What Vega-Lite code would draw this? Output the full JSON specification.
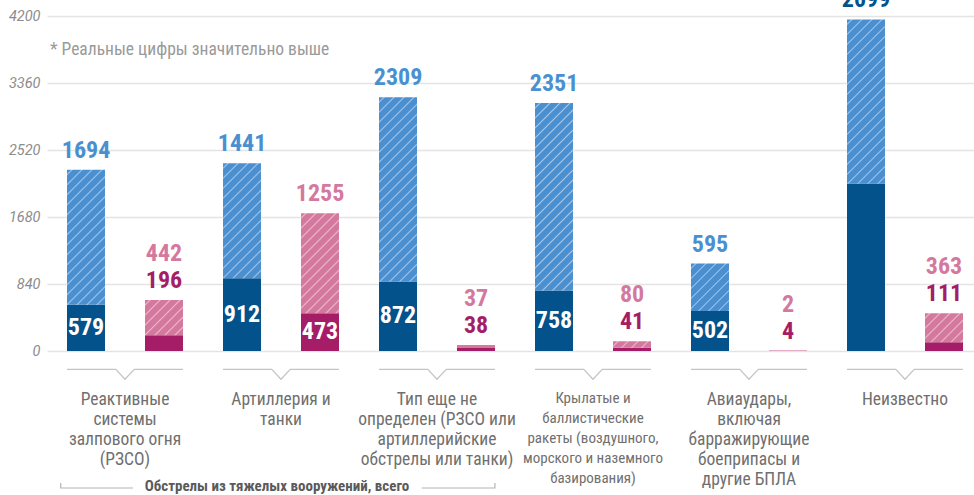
{
  "$schema": "https://vega.github.io/schema/vega-lite/v6.json",
  "width": 926,
  "height": 335,
  "autosize": {"type": "none"},
  "padding": {"left": 48, "top": 16, "right": 0, "bottom": 144},
  "background": "white",
  "config": {
    "view": {"stroke": null},
    "font": "Roboto Condensed, Liberation Sans Narrow, Roboto, sans-serif"
  },
  "datasets": {
    "bars": [
      {"cat": "Реактивные|системы|залпового огня|(РЗСО)", "series": "series1", "base": 579, "extra": 1694},
      {"cat": "Реактивные|системы|залпового огня|(РЗСО)", "series": "series2", "base": 196, "extra": 442},
      {"cat": "Артиллерия и|танки", "series": "series1", "base": 912, "extra": 1441},
      {"cat": "Артиллерия и|танки", "series": "series2", "base": 473, "extra": 1255},
      {"cat": "Тип еще не|определен (РЗСО или|артиллерийские|обстрелы или танки)", "series": "series1", "base": 872, "extra": 2309},
      {"cat": "Тип еще не|определен (РЗСО или|артиллерийские|обстрелы или танки)", "series": "series2", "base": 38, "extra": 37},
      {"cat": "Крылатые и|баллистические|ракеты (воздушного,|морского и наземного|базирования)", "series": "series1", "base": 758, "extra": 2351},
      {"cat": "Крылатые и|баллистические|ракеты (воздушного,|морского и наземного|базирования)", "series": "series2", "base": 41, "extra": 80},
      {"cat": "Авиаудары,|включая|барражирующие|боеприпасы и|другие БПЛА", "series": "series1", "base": 502, "extra": 595},
      {"cat": "Авиаудары,|включая|барражирующие|боеприпасы и|другие БПЛА", "series": "series2", "base": 4, "extra": 2},
      {"cat": "Неизвестно", "series": "series1", "base": 2099, "extra": 2058},
      {"cat": "Неизвестно", "series": "series2", "base": 111, "extra": 363}
    ]
  },
  "data": {"name": "bars"},
  "transform": [
    {"fold": ["base", "extra"], "as": ["part", "value"]},
    {"joinaggregate": [{"op": "sum", "field": "value", "as": "total"}], "groupby": ["cat", "series"]}
  ],
  "resolve": {"scale": {"y": "independent"}},
  "encoding": {
    "x": {
      "field": "cat", "type": "nominal", "sort": null,
      "scale": {"range": [-1, 935], "paddingInner": 0, "paddingOuter": 0},
      "axis": {
        "title": null, "domain": false, "ticks": false, "labelAngle": 0,
        "labelPadding": 39, "labelBaseline": "top", "labelLimit": 0,
        "labelExpr": "split(datum.label, '|')",
        "labelLineHeight": 20,
        "labelColor": "#6f6f6f",
        "labelFontSize": {"condition": {"test": "indexof(datum.value, 'Крылатые') == 0", "value": 15}, "value": 17.5},
        "labelOverlap": false
      }
    }
  },
  "layer": [
    {
      "mark": {"type": "bar"},
      "encoding": {
        "xOffset": {"field": "series", "type": "nominal", "scale": {"paddingInner": 0.513, "paddingOuter": 0.2565}},
        "y": {
          "field": "value", "type": "quantitative", "stack": "zero",
          "scale": {"domain": [0, 4200], "nice": false},
          "axis": {
            "values": [0, 840, 1680, 2520, 3360, 4200], "format": "d", "title": null,
            "domain": false, "ticks": false, "labelPadding": 8,
            "labelFont": "Roboto", "labelFontStyle": "italic", "labelFontSize": 14.5,
            "labelColor": "#8c8c8c", "gridColor": "#e4e4e4", "gridWidth": 1.5
          }
        },
        "order": {"field": "part", "sort": "ascending"},
        "detail": {"field": "part"},
        "fill": {
          "condition": [
            {"test": "datum.series == 'series1' && datum.part == 'base'", "value": "#03528b"},
            {"test": "datum.part == 'base'", "value": "#a51d66"},
            {"test": "datum.series == 'series1' && indexof(datum.cat, 'Реактивные') == 0", "value": {"gradient": "linear", "x1": 0, "y1": 0, "x2": 0.4822, "y2": 1.7146, "stops": [
              {"offset": 0, "color": "#4a8fd0"},
              {"offset": 0.014, "color": "#4a8fd0"}, {"offset": 0.02, "color": "#a3c6ea"}, {"offset": 0.026, "color": "#4a8fd0"},
              {"offset": 0.054, "color": "#4a8fd0"}, {"offset": 0.06, "color": "#a3c6ea"}, {"offset": 0.066, "color": "#4a8fd0"},
              {"offset": 0.094, "color": "#4a8fd0"}, {"offset": 0.1, "color": "#a3c6ea"}, {"offset": 0.106, "color": "#4a8fd0"},
              {"offset": 0.134, "color": "#4a8fd0"}, {"offset": 0.14, "color": "#a3c6ea"}, {"offset": 0.146, "color": "#4a8fd0"},
              {"offset": 0.174, "color": "#4a8fd0"}, {"offset": 0.18, "color": "#a3c6ea"}, {"offset": 0.186, "color": "#4a8fd0"},
              {"offset": 0.214, "color": "#4a8fd0"}, {"offset": 0.22, "color": "#a3c6ea"}, {"offset": 0.226, "color": "#4a8fd0"},
              {"offset": 0.254, "color": "#4a8fd0"}, {"offset": 0.26, "color": "#a3c6ea"}, {"offset": 0.266, "color": "#4a8fd0"},
              {"offset": 0.294, "color": "#4a8fd0"}, {"offset": 0.3, "color": "#a3c6ea"}, {"offset": 0.306, "color": "#4a8fd0"},
              {"offset": 0.334, "color": "#4a8fd0"}, {"offset": 0.34, "color": "#a3c6ea"}, {"offset": 0.346, "color": "#4a8fd0"},
              {"offset": 0.374, "color": "#4a8fd0"}, {"offset": 0.38, "color": "#a3c6ea"}, {"offset": 0.386, "color": "#4a8fd0"},
              {"offset": 0.414, "color": "#4a8fd0"}, {"offset": 0.42, "color": "#a3c6ea"}, {"offset": 0.426, "color": "#4a8fd0"},
              {"offset": 0.454, "color": "#4a8fd0"}, {"offset": 0.46, "color": "#a3c6ea"}, {"offset": 0.466, "color": "#4a8fd0"},
              {"offset": 0.494, "color": "#4a8fd0"}, {"offset": 0.5, "color": "#a3c6ea"}, {"offset": 0.506, "color": "#4a8fd0"},
              {"offset": 0.534, "color": "#4a8fd0"}, {"offset": 0.54, "color": "#a3c6ea"}, {"offset": 0.546, "color": "#4a8fd0"},
              {"offset": 0.574, "color": "#4a8fd0"}, {"offset": 0.58, "color": "#a3c6ea"}, {"offset": 0.586, "color": "#4a8fd0"},
              {"offset": 0.614, "color": "#4a8fd0"}, {"offset": 0.62, "color": "#a3c6ea"}, {"offset": 0.626, "color": "#4a8fd0"},
              {"offset": 0.654, "color": "#4a8fd0"}, {"offset": 0.66, "color": "#a3c6ea"}, {"offset": 0.666, "color": "#4a8fd0"},
              {"offset": 1, "color": "#4a8fd0"}]}},
            {"test": "datum.series == 'series1' && indexof(datum.cat, 'Артиллерия') == 0", "value": {"gradient": "linear", "x1": 0, "y1": 0, "x2": 0.6482, "y2": 1.9608, "stops": [
              {"offset": 0, "color": "#4a8fd0"},
              {"offset": 0.014, "color": "#4a8fd0"}, {"offset": 0.02, "color": "#a3c6ea"}, {"offset": 0.026, "color": "#4a8fd0"},
              {"offset": 0.054, "color": "#4a8fd0"}, {"offset": 0.06, "color": "#a3c6ea"}, {"offset": 0.066, "color": "#4a8fd0"},
              {"offset": 0.094, "color": "#4a8fd0"}, {"offset": 0.1, "color": "#a3c6ea"}, {"offset": 0.106, "color": "#4a8fd0"},
              {"offset": 0.134, "color": "#4a8fd0"}, {"offset": 0.14, "color": "#a3c6ea"}, {"offset": 0.146, "color": "#4a8fd0"},
              {"offset": 0.174, "color": "#4a8fd0"}, {"offset": 0.18, "color": "#a3c6ea"}, {"offset": 0.186, "color": "#4a8fd0"},
              {"offset": 0.214, "color": "#4a8fd0"}, {"offset": 0.22, "color": "#a3c6ea"}, {"offset": 0.226, "color": "#4a8fd0"},
              {"offset": 0.254, "color": "#4a8fd0"}, {"offset": 0.26, "color": "#a3c6ea"}, {"offset": 0.266, "color": "#4a8fd0"},
              {"offset": 0.294, "color": "#4a8fd0"}, {"offset": 0.3, "color": "#a3c6ea"}, {"offset": 0.306, "color": "#4a8fd0"},
              {"offset": 0.334, "color": "#4a8fd0"}, {"offset": 0.34, "color": "#a3c6ea"}, {"offset": 0.346, "color": "#4a8fd0"},
              {"offset": 0.374, "color": "#4a8fd0"}, {"offset": 0.38, "color": "#a3c6ea"}, {"offset": 0.386, "color": "#4a8fd0"},
              {"offset": 0.414, "color": "#4a8fd0"}, {"offset": 0.42, "color": "#a3c6ea"}, {"offset": 0.426, "color": "#4a8fd0"},
              {"offset": 0.454, "color": "#4a8fd0"}, {"offset": 0.46, "color": "#a3c6ea"}, {"offset": 0.466, "color": "#4a8fd0"},
              {"offset": 0.494, "color": "#4a8fd0"}, {"offset": 0.5, "color": "#a3c6ea"}, {"offset": 0.506, "color": "#4a8fd0"},
              {"offset": 0.534, "color": "#4a8fd0"}, {"offset": 0.54, "color": "#a3c6ea"}, {"offset": 0.546, "color": "#4a8fd0"},
              {"offset": 0.574, "color": "#4a8fd0"}, {"offset": 0.58, "color": "#a3c6ea"}, {"offset": 0.586, "color": "#4a8fd0"},
              {"offset": 1, "color": "#4a8fd0"}]}},
            {"test": "datum.series == 'series1' && indexof(datum.cat, 'Тип') == 0", "value": {"gradient": "linear", "x1": 0, "y1": 0, "x2": 0.2686, "y2": 1.302, "stops": [
              {"offset": 0, "color": "#4a8fd0"},
              {"offset": 0.014, "color": "#4a8fd0"}, {"offset": 0.02, "color": "#a3c6ea"}, {"offset": 0.026, "color": "#4a8fd0"},
              {"offset": 0.054, "color": "#4a8fd0"}, {"offset": 0.06, "color": "#a3c6ea"}, {"offset": 0.066, "color": "#4a8fd0"},
              {"offset": 0.094, "color": "#4a8fd0"}, {"offset": 0.1, "color": "#a3c6ea"}, {"offset": 0.106, "color": "#4a8fd0"},
              {"offset": 0.134, "color": "#4a8fd0"}, {"offset": 0.14, "color": "#a3c6ea"}, {"offset": 0.146, "color": "#4a8fd0"},
              {"offset": 0.174, "color": "#4a8fd0"}, {"offset": 0.18, "color": "#a3c6ea"}, {"offset": 0.186, "color": "#4a8fd0"},
              {"offset": 0.214, "color": "#4a8fd0"}, {"offset": 0.22, "color": "#a3c6ea"}, {"offset": 0.226, "color": "#4a8fd0"},
              {"offset": 0.254, "color": "#4a8fd0"}, {"offset": 0.26, "color": "#a3c6ea"}, {"offset": 0.266, "color": "#4a8fd0"},
              {"offset": 0.294, "color": "#4a8fd0"}, {"offset": 0.3, "color": "#a3c6ea"}, {"offset": 0.306, "color": "#4a8fd0"},
              {"offset": 0.334, "color": "#4a8fd0"}, {"offset": 0.34, "color": "#a3c6ea"}, {"offset": 0.346, "color": "#4a8fd0"},
              {"offset": 0.374, "color": "#4a8fd0"}, {"offset": 0.38, "color": "#a3c6ea"}, {"offset": 0.386, "color": "#4a8fd0"},
              {"offset": 0.414, "color": "#4a8fd0"}, {"offset": 0.42, "color": "#a3c6ea"}, {"offset": 0.426, "color": "#4a8fd0"},
              {"offset": 0.454, "color": "#4a8fd0"}, {"offset": 0.46, "color": "#a3c6ea"}, {"offset": 0.466, "color": "#4a8fd0"},
              {"offset": 0.494, "color": "#4a8fd0"}, {"offset": 0.5, "color": "#a3c6ea"}, {"offset": 0.506, "color": "#4a8fd0"},
              {"offset": 0.534, "color": "#4a8fd0"}, {"offset": 0.54, "color": "#a3c6ea"}, {"offset": 0.546, "color": "#4a8fd0"},
              {"offset": 0.574, "color": "#4a8fd0"}, {"offset": 0.58, "color": "#a3c6ea"}, {"offset": 0.586, "color": "#4a8fd0"},
              {"offset": 0.614, "color": "#4a8fd0"}, {"offset": 0.62, "color": "#a3c6ea"}, {"offset": 0.626, "color": "#4a8fd0"},
              {"offset": 0.654, "color": "#4a8fd0"}, {"offset": 0.66, "color": "#a3c6ea"}, {"offset": 0.666, "color": "#4a8fd0"},
              {"offset": 0.694, "color": "#4a8fd0"}, {"offset": 0.7, "color": "#a3c6ea"}, {"offset": 0.706, "color": "#4a8fd0"},
              {"offset": 0.734, "color": "#4a8fd0"}, {"offset": 0.74, "color": "#a3c6ea"}, {"offset": 0.746, "color": "#4a8fd0"},
              {"offset": 0.774, "color": "#4a8fd0"}, {"offset": 0.78, "color": "#a3c6ea"}, {"offset": 0.786, "color": "#4a8fd0"},
              {"offset": 0.814, "color": "#4a8fd0"}, {"offset": 0.82, "color": "#a3c6ea"}, {"offset": 0.826, "color": "#4a8fd0"},
              {"offset": 0.854, "color": "#4a8fd0"}, {"offset": 0.86, "color": "#a3c6ea"}, {"offset": 0.866, "color": "#4a8fd0"},
              {"offset": 1, "color": "#4a8fd0"}]}},
            {"test": "datum.series == 'series1' && indexof(datum.cat, 'Крылатые') == 0", "value": {"gradient": "linear", "x1": 0, "y1": 0, "x2": 0.2595, "y2": 1.2806, "stops": [
              {"offset": 0, "color": "#4a8fd0"},
              {"offset": 0.014, "color": "#4a8fd0"}, {"offset": 0.02, "color": "#a3c6ea"}, {"offset": 0.026, "color": "#4a8fd0"},
              {"offset": 0.054, "color": "#4a8fd0"}, {"offset": 0.06, "color": "#a3c6ea"}, {"offset": 0.066, "color": "#4a8fd0"},
              {"offset": 0.094, "color": "#4a8fd0"}, {"offset": 0.1, "color": "#a3c6ea"}, {"offset": 0.106, "color": "#4a8fd0"},
              {"offset": 0.134, "color": "#4a8fd0"}, {"offset": 0.14, "color": "#a3c6ea"}, {"offset": 0.146, "color": "#4a8fd0"},
              {"offset": 0.174, "color": "#4a8fd0"}, {"offset": 0.18, "color": "#a3c6ea"}, {"offset": 0.186, "color": "#4a8fd0"},
              {"offset": 0.214, "color": "#4a8fd0"}, {"offset": 0.22, "color": "#a3c6ea"}, {"offset": 0.226, "color": "#4a8fd0"},
              {"offset": 0.254, "color": "#4a8fd0"}, {"offset": 0.26, "color": "#a3c6ea"}, {"offset": 0.266, "color": "#4a8fd0"},
              {"offset": 0.294, "color": "#4a8fd0"}, {"offset": 0.3, "color": "#a3c6ea"}, {"offset": 0.306, "color": "#4a8fd0"},
              {"offset": 0.334, "color": "#4a8fd0"}, {"offset": 0.34, "color": "#a3c6ea"}, {"offset": 0.346, "color": "#4a8fd0"},
              {"offset": 0.374, "color": "#4a8fd0"}, {"offset": 0.38, "color": "#a3c6ea"}, {"offset": 0.386, "color": "#4a8fd0"},
              {"offset": 0.414, "color": "#4a8fd0"}, {"offset": 0.42, "color": "#a3c6ea"}, {"offset": 0.426, "color": "#4a8fd0"},
              {"offset": 0.454, "color": "#4a8fd0"}, {"offset": 0.46, "color": "#a3c6ea"}, {"offset": 0.466, "color": "#4a8fd0"},
              {"offset": 0.494, "color": "#4a8fd0"}, {"offset": 0.5, "color": "#a3c6ea"}, {"offset": 0.506, "color": "#4a8fd0"},
              {"offset": 0.534, "color": "#4a8fd0"}, {"offset": 0.54, "color": "#a3c6ea"}, {"offset": 0.546, "color": "#4a8fd0"},
              {"offset": 0.574, "color": "#4a8fd0"}, {"offset": 0.58, "color": "#a3c6ea"}, {"offset": 0.586, "color": "#4a8fd0"},
              {"offset": 0.614, "color": "#4a8fd0"}, {"offset": 0.62, "color": "#a3c6ea"}, {"offset": 0.626, "color": "#4a8fd0"},
              {"offset": 0.654, "color": "#4a8fd0"}, {"offset": 0.66, "color": "#a3c6ea"}, {"offset": 0.666, "color": "#4a8fd0"},
              {"offset": 0.694, "color": "#4a8fd0"}, {"offset": 0.7, "color": "#a3c6ea"}, {"offset": 0.706, "color": "#4a8fd0"},
              {"offset": 0.734, "color": "#4a8fd0"}, {"offset": 0.74, "color": "#a3c6ea"}, {"offset": 0.746, "color": "#4a8fd0"},
              {"offset": 0.774, "color": "#4a8fd0"}, {"offset": 0.78, "color": "#a3c6ea"}, {"offset": 0.786, "color": "#4a8fd0"},
              {"offset": 0.814, "color": "#4a8fd0"}, {"offset": 0.82, "color": "#a3c6ea"}, {"offset": 0.826, "color": "#4a8fd0"},
              {"offset": 0.854, "color": "#4a8fd0"}, {"offset": 0.86, "color": "#a3c6ea"}, {"offset": 0.866, "color": "#4a8fd0"},
              {"offset": 0.894, "color": "#4a8fd0"}, {"offset": 0.9, "color": "#a3c6ea"}, {"offset": 0.906, "color": "#4a8fd0"},
              {"offset": 1, "color": "#4a8fd0"}]}},
            {"test": "datum.series == 'series1' && indexof(datum.cat, 'Авиаудары') == 0", "value": {"gradient": "linear", "x1": 0, "y1": 0, "x2": 2.5703, "y2": 3.2102, "stops": [
              {"offset": 0, "color": "#4a8fd0"},
              {"offset": 0.014, "color": "#4a8fd0"}, {"offset": 0.02, "color": "#a3c6ea"}, {"offset": 0.026, "color": "#4a8fd0"},
              {"offset": 0.054, "color": "#4a8fd0"}, {"offset": 0.06, "color": "#a3c6ea"}, {"offset": 0.066, "color": "#4a8fd0"},
              {"offset": 0.094, "color": "#4a8fd0"}, {"offset": 0.1, "color": "#a3c6ea"}, {"offset": 0.106, "color": "#4a8fd0"},
              {"offset": 0.134, "color": "#4a8fd0"}, {"offset": 0.14, "color": "#a3c6ea"}, {"offset": 0.146, "color": "#4a8fd0"},
              {"offset": 0.174, "color": "#4a8fd0"}, {"offset": 0.18, "color": "#a3c6ea"}, {"offset": 0.186, "color": "#4a8fd0"},
              {"offset": 0.214, "color": "#4a8fd0"}, {"offset": 0.22, "color": "#a3c6ea"}, {"offset": 0.226, "color": "#4a8fd0"},
              {"offset": 0.254, "color": "#4a8fd0"}, {"offset": 0.26, "color": "#a3c6ea"}, {"offset": 0.266, "color": "#4a8fd0"},
              {"offset": 0.294, "color": "#4a8fd0"}, {"offset": 0.3, "color": "#a3c6ea"}, {"offset": 0.306, "color": "#4a8fd0"},
              {"offset": 0.334, "color": "#4a8fd0"}, {"offset": 0.34, "color": "#a3c6ea"}, {"offset": 0.346, "color": "#4a8fd0"},
              {"offset": 1, "color": "#4a8fd0"}]}},
            {"test": "datum.series == 'series1'", "value": {"gradient": "linear", "x1": 0, "y1": 0, "x2": 0.3346, "y2": 1.4455, "stops": [
              {"offset": 0, "color": "#4a8fd0"},
              {"offset": 0.014, "color": "#4a8fd0"}, {"offset": 0.02, "color": "#a3c6ea"}, {"offset": 0.026, "color": "#4a8fd0"},
              {"offset": 0.054, "color": "#4a8fd0"}, {"offset": 0.06, "color": "#a3c6ea"}, {"offset": 0.066, "color": "#4a8fd0"},
              {"offset": 0.094, "color": "#4a8fd0"}, {"offset": 0.1, "color": "#a3c6ea"}, {"offset": 0.106, "color": "#4a8fd0"},
              {"offset": 0.134, "color": "#4a8fd0"}, {"offset": 0.14, "color": "#a3c6ea"}, {"offset": 0.146, "color": "#4a8fd0"},
              {"offset": 0.174, "color": "#4a8fd0"}, {"offset": 0.18, "color": "#a3c6ea"}, {"offset": 0.186, "color": "#4a8fd0"},
              {"offset": 0.214, "color": "#4a8fd0"}, {"offset": 0.22, "color": "#a3c6ea"}, {"offset": 0.226, "color": "#4a8fd0"},
              {"offset": 0.254, "color": "#4a8fd0"}, {"offset": 0.26, "color": "#a3c6ea"}, {"offset": 0.266, "color": "#4a8fd0"},
              {"offset": 0.294, "color": "#4a8fd0"}, {"offset": 0.3, "color": "#a3c6ea"}, {"offset": 0.306, "color": "#4a8fd0"},
              {"offset": 0.334, "color": "#4a8fd0"}, {"offset": 0.34, "color": "#a3c6ea"}, {"offset": 0.346, "color": "#4a8fd0"},
              {"offset": 0.374, "color": "#4a8fd0"}, {"offset": 0.38, "color": "#a3c6ea"}, {"offset": 0.386, "color": "#4a8fd0"},
              {"offset": 0.414, "color": "#4a8fd0"}, {"offset": 0.42, "color": "#a3c6ea"}, {"offset": 0.426, "color": "#4a8fd0"},
              {"offset": 0.454, "color": "#4a8fd0"}, {"offset": 0.46, "color": "#a3c6ea"}, {"offset": 0.466, "color": "#4a8fd0"},
              {"offset": 0.494, "color": "#4a8fd0"}, {"offset": 0.5, "color": "#a3c6ea"}, {"offset": 0.506, "color": "#4a8fd0"},
              {"offset": 0.534, "color": "#4a8fd0"}, {"offset": 0.54, "color": "#a3c6ea"}, {"offset": 0.546, "color": "#4a8fd0"},
              {"offset": 0.574, "color": "#4a8fd0"}, {"offset": 0.58, "color": "#a3c6ea"}, {"offset": 0.586, "color": "#4a8fd0"},
              {"offset": 0.614, "color": "#4a8fd0"}, {"offset": 0.62, "color": "#a3c6ea"}, {"offset": 0.626, "color": "#4a8fd0"},
              {"offset": 0.654, "color": "#4a8fd0"}, {"offset": 0.66, "color": "#a3c6ea"}, {"offset": 0.666, "color": "#4a8fd0"},
              {"offset": 0.694, "color": "#4a8fd0"}, {"offset": 0.7, "color": "#a3c6ea"}, {"offset": 0.706, "color": "#4a8fd0"},
              {"offset": 0.734, "color": "#4a8fd0"}, {"offset": 0.74, "color": "#a3c6ea"}, {"offset": 0.746, "color": "#4a8fd0"},
              {"offset": 0.774, "color": "#4a8fd0"}, {"offset": 0.78, "color": "#a3c6ea"}, {"offset": 0.786, "color": "#4a8fd0"},
              {"offset": 1, "color": "#4a8fd0"}]}},
            {"test": "indexof(datum.cat, 'Реактивные') == 0", "value": {"gradient": "linear", "x1": 0, "y1": 0, "x2": 3.5355, "y2": 3.2806, "stops": [
              {"offset": 0, "color": "#d4789e"},
              {"offset": 0.014, "color": "#d4789e"}, {"offset": 0.02, "color": "#ecb8cd"}, {"offset": 0.026, "color": "#d4789e"},
              {"offset": 0.054, "color": "#d4789e"}, {"offset": 0.06, "color": "#ecb8cd"}, {"offset": 0.066, "color": "#d4789e"},
              {"offset": 0.094, "color": "#d4789e"}, {"offset": 0.1, "color": "#ecb8cd"}, {"offset": 0.106, "color": "#d4789e"},
              {"offset": 0.134, "color": "#d4789e"}, {"offset": 0.14, "color": "#ecb8cd"}, {"offset": 0.146, "color": "#d4789e"},
              {"offset": 0.174, "color": "#d4789e"}, {"offset": 0.18, "color": "#ecb8cd"}, {"offset": 0.186, "color": "#d4789e"},
              {"offset": 0.214, "color": "#d4789e"}, {"offset": 0.22, "color": "#ecb8cd"}, {"offset": 0.226, "color": "#d4789e"},
              {"offset": 0.254, "color": "#d4789e"}, {"offset": 0.26, "color": "#ecb8cd"}, {"offset": 0.266, "color": "#d4789e"},
              {"offset": 1, "color": "#d4789e"}]}},
            {"test": "indexof(datum.cat, 'Артиллерия') == 0", "value": {"gradient": "linear", "x1": 0, "y1": 0, "x2": 0.8287, "y2": 2.1829, "stops": [
              {"offset": 0, "color": "#d4789e"},
              {"offset": 0.014, "color": "#d4789e"}, {"offset": 0.02, "color": "#ecb8cd"}, {"offset": 0.026, "color": "#d4789e"},
              {"offset": 0.054, "color": "#d4789e"}, {"offset": 0.06, "color": "#ecb8cd"}, {"offset": 0.066, "color": "#d4789e"},
              {"offset": 0.094, "color": "#d4789e"}, {"offset": 0.1, "color": "#ecb8cd"}, {"offset": 0.106, "color": "#d4789e"},
              {"offset": 0.134, "color": "#d4789e"}, {"offset": 0.14, "color": "#ecb8cd"}, {"offset": 0.146, "color": "#d4789e"},
              {"offset": 0.174, "color": "#d4789e"}, {"offset": 0.18, "color": "#ecb8cd"}, {"offset": 0.186, "color": "#d4789e"},
              {"offset": 0.214, "color": "#d4789e"}, {"offset": 0.22, "color": "#ecb8cd"}, {"offset": 0.226, "color": "#d4789e"},
              {"offset": 0.254, "color": "#d4789e"}, {"offset": 0.26, "color": "#ecb8cd"}, {"offset": 0.266, "color": "#d4789e"},
              {"offset": 0.294, "color": "#d4789e"}, {"offset": 0.3, "color": "#ecb8cd"}, {"offset": 0.306, "color": "#d4789e"},
              {"offset": 0.334, "color": "#d4789e"}, {"offset": 0.34, "color": "#ecb8cd"}, {"offset": 0.346, "color": "#d4789e"},
              {"offset": 0.374, "color": "#d4789e"}, {"offset": 0.38, "color": "#ecb8cd"}, {"offset": 0.386, "color": "#d4789e"},
              {"offset": 0.414, "color": "#d4789e"}, {"offset": 0.42, "color": "#ecb8cd"}, {"offset": 0.426, "color": "#d4789e"},
              {"offset": 0.454, "color": "#d4789e"}, {"offset": 0.46, "color": "#ecb8cd"}, {"offset": 0.466, "color": "#d4789e"},
              {"offset": 0.494, "color": "#d4789e"}, {"offset": 0.5, "color": "#ecb8cd"}, {"offset": 0.506, "color": "#d4789e"},
              {"offset": 0.534, "color": "#d4789e"}, {"offset": 0.54, "color": "#ecb8cd"}, {"offset": 0.546, "color": "#d4789e"},
              {"offset": 1, "color": "#d4789e"}]}},
            {"test": "indexof(datum.cat, 'Крылатые') == 0", "value": {"gradient": "linear", "x1": 0, "y1": 0, "x2": 6.397, "y2": 1.0774, "stops": [
              {"offset": 0, "color": "#d4789e"},
              {"offset": 0.014, "color": "#d4789e"}, {"offset": 0.02, "color": "#ecb8cd"}, {"offset": 0.026, "color": "#d4789e"},
              {"offset": 0.054, "color": "#d4789e"}, {"offset": 0.06, "color": "#ecb8cd"}, {"offset": 0.066, "color": "#d4789e"},
              {"offset": 0.094, "color": "#d4789e"}, {"offset": 0.1, "color": "#ecb8cd"}, {"offset": 0.106, "color": "#d4789e"},
              {"offset": 0.134, "color": "#d4789e"}, {"offset": 0.14, "color": "#ecb8cd"}, {"offset": 0.146, "color": "#d4789e"},
              {"offset": 1, "color": "#d4789e"}]}},
            {"test": "datum.cat == 'Неизвестно'", "value": {"gradient": "linear", "x1": 0, "y1": 0, "x2": 4.163, "y2": 3.1718, "stops": [
              {"offset": 0, "color": "#d4789e"},
              {"offset": 0.014, "color": "#d4789e"}, {"offset": 0.02, "color": "#ecb8cd"}, {"offset": 0.026, "color": "#d4789e"},
              {"offset": 0.054, "color": "#d4789e"}, {"offset": 0.06, "color": "#ecb8cd"}, {"offset": 0.066, "color": "#d4789e"},
              {"offset": 0.094, "color": "#d4789e"}, {"offset": 0.1, "color": "#ecb8cd"}, {"offset": 0.106, "color": "#d4789e"},
              {"offset": 0.134, "color": "#d4789e"}, {"offset": 0.14, "color": "#ecb8cd"}, {"offset": 0.146, "color": "#d4789e"},
              {"offset": 0.174, "color": "#d4789e"}, {"offset": 0.18, "color": "#ecb8cd"}, {"offset": 0.186, "color": "#d4789e"},
              {"offset": 0.214, "color": "#d4789e"}, {"offset": 0.22, "color": "#ecb8cd"}, {"offset": 0.226, "color": "#d4789e"},
              {"offset": 0.254, "color": "#d4789e"}, {"offset": 0.26, "color": "#ecb8cd"}, {"offset": 0.266, "color": "#d4789e"},
              {"offset": 1, "color": "#d4789e"}]}}
          ],
          "value": "#d4789e"
        }
      }
    },
    {
      "transform": [{"filter": "datum.part == 'base' && datum.value >= 400 && datum.cat != 'Неизвестно'"}],
      "mark": {"type": "text", "fill": "white", "fontSize": 24, "fontWeight": "bold", "baseline": "middle"},
      "encoding": {
        "xOffset": {"field": "series", "type": "nominal", "scale": {"paddingInner": 0.513, "paddingOuter": 0.2565}},
        "y": {"field": "value", "type": "quantitative", "scale": {"domain": [0, 8400], "nice": false}, "axis": null},
        "text": {"field": "value", "type": "quantitative", "format": "d"}
      }
    },
    {
      "transform": [{"filter": "datum.part == 'extra' && datum.base >= 400 && !(datum.series == 'series1' && datum.cat == 'Неизвестно')"}],
      "mark": {"type": "text", "fontSize": 24, "fontWeight": "bold", "baseline": "middle", "dy": -19},
      "encoding": {
        "xOffset": {"field": "series", "type": "nominal", "scale": {"paddingInner": 0.513, "paddingOuter": 0.2565}},
        "y": {"field": "total", "type": "quantitative", "scale": {"domain": [0, 4200], "nice": false}, "axis": null},
        "text": {"field": "value", "type": "quantitative", "format": "d"},
        "fill": {"condition": {"test": "datum.series == 'series1'", "value": "#4a90d0"}, "value": "#d4789e"}
      }
    },
    {
      "transform": [{"filter": "datum.part == 'extra' && datum.base < 400"}],
      "mark": {"type": "text", "fontSize": 24, "fontWeight": "bold", "baseline": "middle", "dy": -46},
      "encoding": {
        "xOffset": {"field": "series", "type": "nominal", "scale": {"paddingInner": 0.513, "paddingOuter": 0.2565}},
        "y": {"field": "total", "type": "quantitative", "scale": {"domain": [0, 4200], "nice": false}, "axis": null},
        "text": {"field": "value", "type": "quantitative", "format": "d"},
        "fill": {"value": "#d4789e"}
      }
    },
    {
      "transform": [{"filter": "datum.part == 'base' && (datum.value < 400 || (datum.series == 'series1' && datum.cat == 'Неизвестно'))"}],
      "mark": {"type": "text", "fontSize": 24, "fontWeight": "bold", "baseline": "middle", "dy": -19},
      "encoding": {
        "xOffset": {"field": "series", "type": "nominal", "scale": {"paddingInner": 0.513, "paddingOuter": 0.2565}},
        "y": {"field": "total", "type": "quantitative", "scale": {"domain": [0, 4200], "nice": false}, "axis": null},
        "text": {"field": "value", "type": "quantitative", "format": "d"},
        "fill": {"condition": {"test": "datum.series == 'series1'", "value": "#03528b"}, "value": "#a51d66"}
      }
    },
    {
      "transform": [{"filter": "datum.series == 'series1' && datum.part == 'base'"}],
      "mark": {"type": "point", "shape": "M-1,0L-0.159,0L0,0.172L0.159,0L1,0", "size": 13456, "filled": false, "stroke": "#c4c4c4", "strokeWidth": 1.2, "opacity": 1, "yOffset": 18.3},
      "encoding": {
        "y": {"datum": 0, "type": "quantitative", "scale": {"domain": [0, 4200], "nice": false}, "axis": null}
      }
    },
    {
      "transform": [{"filter": "datum.series == 'series1' && datum.part == 'base' && indexof(datum.cat, 'Артиллерия') == 0"}],
      "mark": {"type": "point", "shape": "M-1,-0.0227L-1,0L-0.672,0M0.639,0L0.971,0L0.971,-0.0227", "size": 194128, "filled": false, "stroke": "#b4b4b4", "strokeWidth": 1.2, "opacity": 1, "yOffset": 137},
      "encoding": {
        "y": {"datum": 0, "type": "quantitative", "scale": {"domain": [0, 4200], "nice": false}, "axis": null}
      }
    },
    {
      "transform": [{"filter": "datum.series == 'series1' && datum.part == 'base' && indexof(datum.cat, 'Артиллерия') == 0"}],
      "mark": {"type": "text", "text": "Обстрелы из тяжелых вооружений, всего", "fontSize": 15, "fontWeight": "bold", "fill": "#5a5a5a", "baseline": "middle", "dx": -4, "yOffset": 135},
      "encoding": {
        "y": {"datum": 0, "type": "quantitative", "scale": {"domain": [0, 4200], "nice": false}, "axis": null}
      }
    },
    {
      "transform": [{"filter": "datum.series == 'series1' && datum.part == 'base' && indexof(datum.cat, 'Реактивные') == 0"}],
      "mark": {"type": "text", "text": "* Реальные цифры значительно выше", "fontSize": 17.5, "fill": "#9a9a9a", "align": "left", "baseline": "middle", "dx": 3},
      "encoding": {
        "x": {"field": "cat", "type": "nominal", "bandPosition": 0},
        "y": {"datum": 3770, "type": "quantitative", "scale": {"domain": [0, 4200], "nice": false}, "axis": null}
      }
    }
  ]
}
